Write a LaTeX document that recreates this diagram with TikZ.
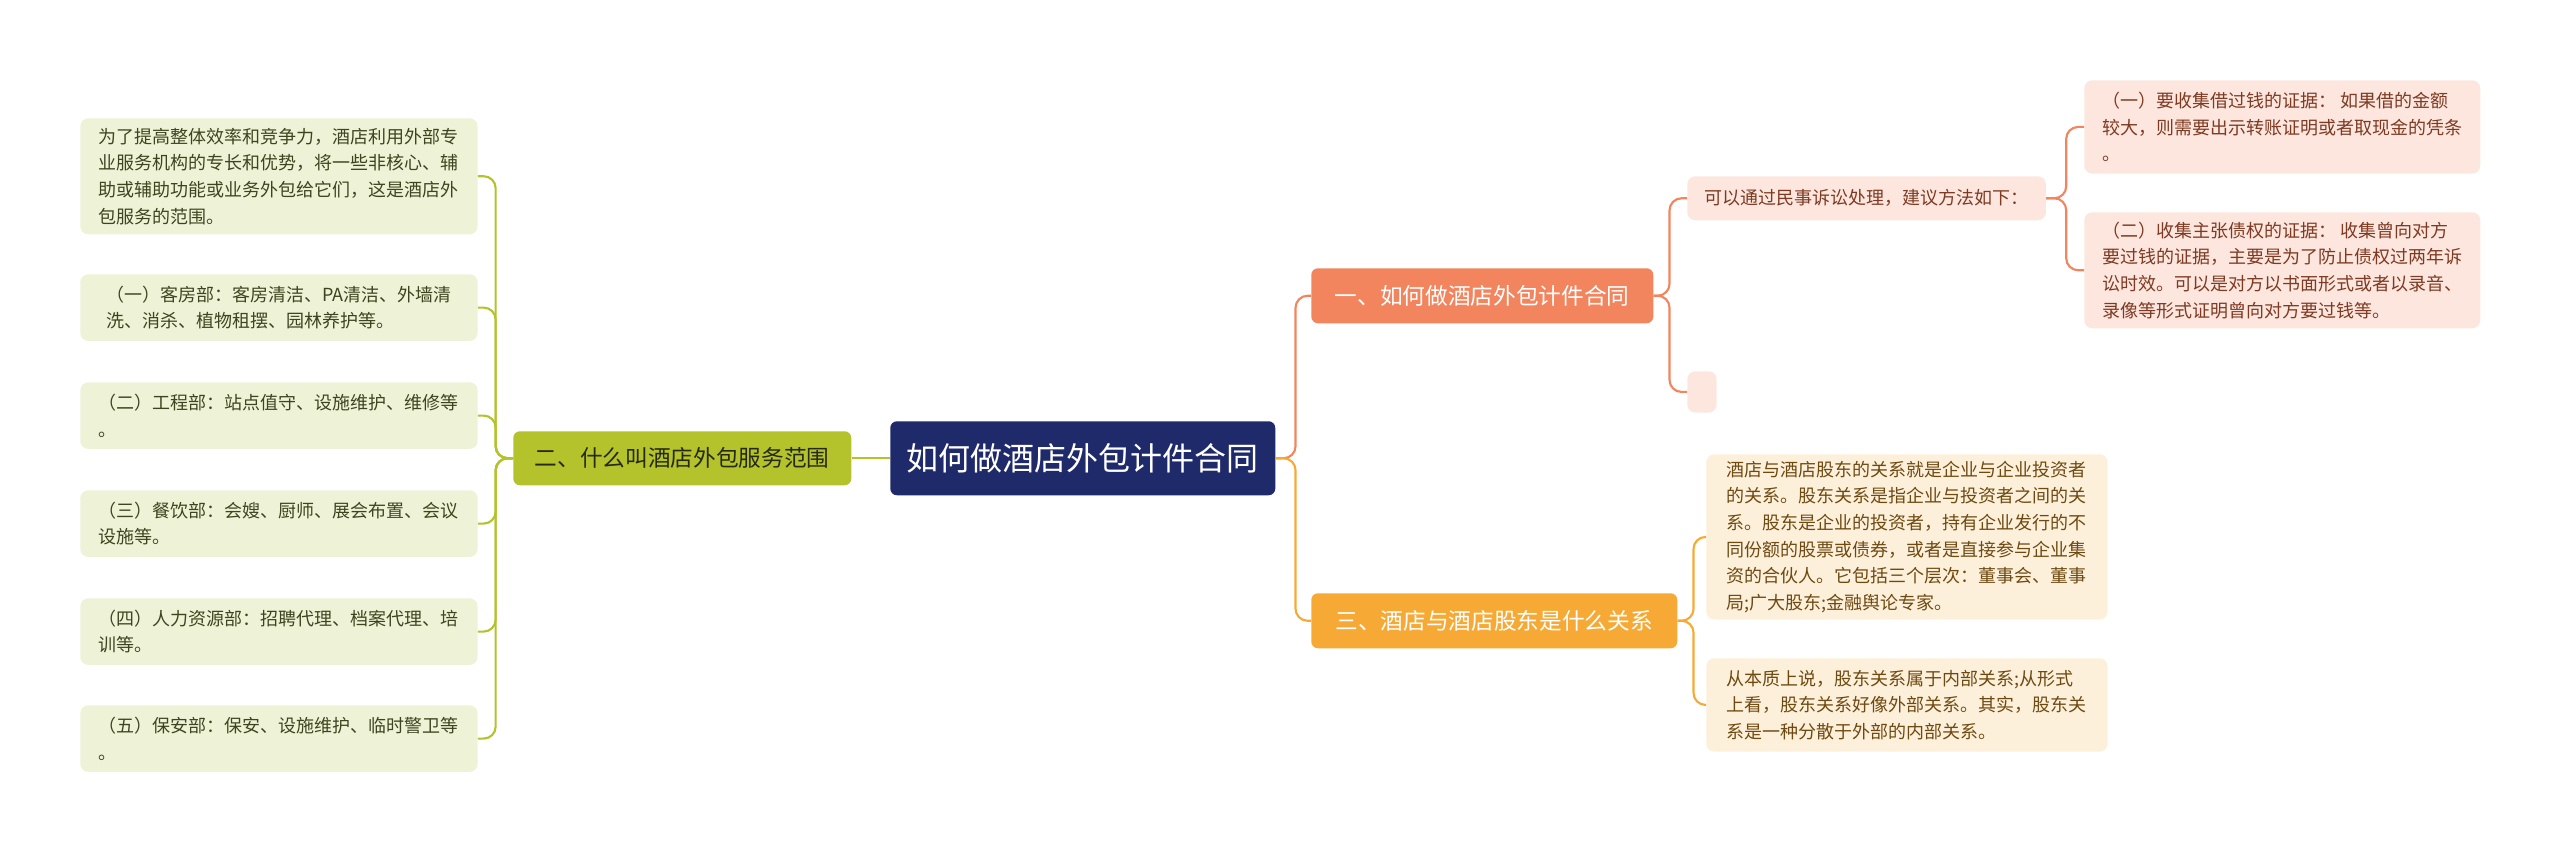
\documentclass[tikz,border=0pt]{standalone}
\usepackage{fontspec}
\setmainfont{Noto Sans CJK SC}
\definecolor{navy}{HTML}{1F2A6B}
\definecolor{gB}{HTML}{B4C22C}
\definecolor{gF}{HTML}{EEF3D7}
\definecolor{gT}{HTML}{3F4420}
\definecolor{pB}{HTML}{F2845E}
\definecolor{pF}{HTML}{FCE6DE}
\definecolor{pT}{HTML}{7E3A22}
\definecolor{yB}{HTML}{F6AA35}
\definecolor{yF}{HTML}{FDF0DA}
\definecolor{yT}{HTML}{6E4A12}
\begin{document}
\begin{tikzpicture}[x=0.75pt,y=-0.75pt,
 box/.style={anchor=north west,rounded corners=6pt,align=left,inner sep=0pt,font=\fontsize{13.5}{20}\selectfont},
 lg/.style={box,fill=gF,text=gT},
 lp/.style={box,fill=pF,text=pT},
 ly/.style={box,fill=yF,text=yT},
 br/.style={anchor=north west,rounded corners=5pt,text=white,inner sep=0pt,font=\fontsize{17}{20}\selectfont},
 cg/.style={draw=gB,line width=1.6pt,rounded corners=9pt},
 cp/.style={draw=pB,line width=1.6pt,rounded corners=9pt},
 cy/.style={draw=yB,line width=1.6pt,rounded corners=9pt}]
\useasboundingbox (0,0) rectangle (2560,855);
\node[anchor=north west,fill=navy,rounded corners=5pt,text=white,minimum width=288.75pt,minimum height=55.5pt,font=\fontsize{24}{28}\selectfont] (root) at (890,421) {如何做酒店外包计件合同};
\node[br,fill=pB,minimum width=256.5pt,minimum height=41.25pt] (b1) at (1311,268) {一、如何做酒店外包计件合同};
\node[br,fill=yB,minimum width=274.5pt,minimum height=41.25pt] (b3) at (1311,593) {三、酒店与酒店股东是什么关系};
\node[br,fill=gB,text=gT!60!black,minimum width=253.5pt,minimum height=40.5pt] (b2) at (513,431) {二、什么叫酒店外包服务范围};
% branch1 children
\node[lp,minimum width=269pt,minimum height=33pt] (s1) at (1687,176) {可以通过民事诉讼处理，建议方法如下：};
\node[lp,minimum width=22pt,minimum height=31pt] (s2) at (1687,371) {};
\node[lp,minimum width=297pt,minimum height=70pt] (p1) at (2084,80) {（一）要收集借过钱的证据： 如果借的金额\\较大，则需要出示转账证明或者取现金的凭条\\。};
\node[lp,minimum width=297pt,minimum height=87pt] (p2) at (2084,212) {（二）收集主张债权的证据： 收集曾向对方\\要过钱的证据，主要是为了防止债权过两年诉\\讼时效。可以是对方以书面形式或者以录音、\\录像等形式证明曾向对方要过钱等。};
% branch3 children
\node[ly,minimum width=301pt,minimum height=124pt] (y1) at (1706,454) {酒店与酒店股东的关系就是企业与企业投资者\\的关系。股东关系是指企业与投资者之间的关\\系。股东是企业的投资者，持有企业发行的不\\同份额的股票或债券，或者是直接参与企业集\\资的合伙人。它包括三个层次：董事会、董事\\局;广大股东;金融舆论专家。};
\node[ly,minimum width=301pt,minimum height=70pt] (y2) at (1706,658) {从本质上说，股东关系属于内部关系;从形式\\上看，股东关系好像外部关系。其实，股东关\\系是一种分散于外部的内部关系。};
% branch2 children
\node[lg,minimum width=298pt,minimum height=87pt] (g1) at (80,118) {为了提高整体效率和竞争力，酒店利用外部专\\业服务机构的专长和优势，将一些非核心、辅\\助或辅助功能或业务外包给它们，这是酒店外\\包服务的范围。};
\node[lg,minimum width=298pt,minimum height=50pt] (g2) at (80,274) {（一）客房部：客房清洁、PA清洁、外墙清\\洗、消杀、植物租摆、园林养护等。};
\node[lg,minimum width=298pt,minimum height=50pt] (g3) at (80,382) {（二）工程部：站点值守、设施维护、维修等\\。};
\node[lg,minimum width=298pt,minimum height=50pt] (g4) at (80,490) {（三）餐饮部：会嫂、厨师、展会布置、会议\\设施等。};
\node[lg,minimum width=298pt,minimum height=50pt] (g5) at (80,598) {（四）人力资源部：招聘代理、档案代理、培\\训等。};
\node[lg,minimum width=298pt,minimum height=50pt] (g6) at (80,705) {（五）保安部：保安、设施维护、临时警卫等\\。};
% connectors
\draw[cp] (root.east) -- ([xshift=15pt]root.east) |- (b1.west);
\draw[cy] (root.east) -- ([xshift=15pt]root.east) |- (b3.west);
\draw[cg] (root.west) -- (b2.east);
\foreach \n in {s1,s2} \draw[cp] (b1.east) -- ([xshift=12pt]b1.east) |- (\n.west);
\foreach \n in {p1,p2} \draw[cp] (s1.east) -- ([xshift=15pt]s1.east) |- (\n.west);
\foreach \n in {y1,y2} \draw[cy] (b3.east) -- ([xshift=12pt]b3.east) |- (\n.west);
\foreach \n in {g1,g2,g3,g4,g5,g6} \draw[cg] (b2.west) -- ([xshift=-13pt]b2.west) |- (\n.east);
\end{tikzpicture}
\end{document}
